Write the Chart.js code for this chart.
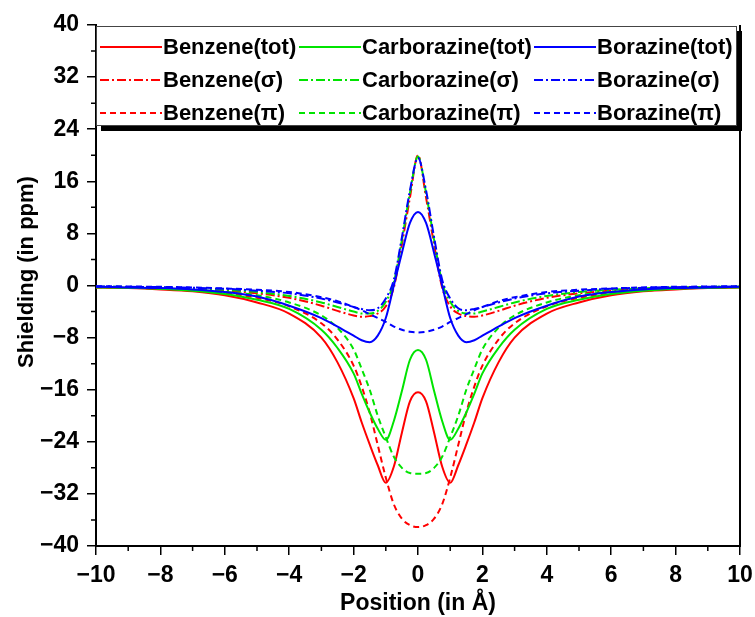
<!DOCTYPE html>
<html>
<head>
<meta charset="utf-8">
<script src="https://cdn.jsdelivr.net/npm/chart.js@4.4.1/dist/chart.umd.min.js"></script>
<style>
  html, body { margin: 0; padding: 0; background: #fff; }
</style>
</head>
<body>
<canvas id="myChart" width="755" height="617"></canvas>
<script>
// NICS-type shielding scans along the ring axis
var positions = [-10, -9, -8, -7, -6, -5, -4, -3, -2.5, -2, -1.75, -1.5, -1.25, -1, -0.75, -0.5, -0.25, 0,
  0.25, 0.5, 0.75, 1, 1.25, 1.5, 1.75, 2, 2.5, 3, 4, 5, 6, 7, 8, 9, 10];

var benzeneTot = [-0.3, -0.4, -0.6, -0.9, -1.5, -2.6, -4.3, -8.0, -11.8, -17.3, -21.0, -24.4, -27.6, -30.3, -27.8, -22.6, -17.8, -16.4,
  -17.8, -22.6, -27.8, -30.3, -27.6, -24.4, -21.0, -17.3, -11.8, -8.0, -4.3, -2.6, -1.5, -0.9, -0.6, -0.4, -0.3];
var carborazineTot = [-0.3, -0.35, -0.5, -0.8, -1.3, -2.2, -3.6, -6.8, -9.6, -13.5, -16.6, -19.5, -22.0, -23.7, -20.8, -16.2, -11.4, -9.9,
  -11.4, -16.2, -20.8, -23.7, -22.0, -19.5, -16.6, -13.5, -9.6, -6.8, -3.6, -2.2, -1.3, -0.8, -0.5, -0.35, -0.3];
var borazineTot = [-0.2, -0.3, -0.4, -0.6, -1.0, -1.7, -3.1, -5.0, -6.3, -7.7, -8.4, -8.7, -7.7, -5.0, 0.0, 5.0, 9.6, 11.3,
  9.6, 5.0, 0.0, -5.0, -7.7, -8.7, -8.4, -7.7, -6.3, -5.0, -3.1, -1.7, -1.0, -0.6, -0.4, -0.3, -0.2];

var benzeneSigma = [-0.2, -0.25, -0.35, -0.5, -0.8, -1.2, -1.9, -3.1, -3.9, -4.6, -4.8, -4.7, -4.3, -3.2, -0.3, 6.3, 13.5, 20.0,
  13.5, 6.3, -0.3, -3.2, -4.3, -4.7, -4.8, -4.6, -3.9, -3.1, -1.9, -1.2, -0.8, -0.5, -0.35, -0.25, -0.2];
var carborazineSigma = [-0.18, -0.22, -0.3, -0.45, -0.65, -1.0, -1.6, -2.6, -3.3, -4.0, -4.3, -4.3, -3.9, -2.5, 0.5, 7.0, 14.2, 19.8,
  14.2, 7.0, 0.5, -2.5, -3.9, -4.3, -4.3, -4.0, -3.3, -2.6, -1.6, -1.0, -0.65, -0.45, -0.3, -0.22, -0.18];
var borazineSigma = [-0.15, -0.2, -0.25, -0.35, -0.5, -0.8, -1.2, -2.0, -2.6, -3.3, -3.6, -3.8, -3.5, -2.0, 0.9, 7.4, 14.6, 19.6,
  14.6, 7.4, 0.9, -2.0, -3.5, -3.8, -3.6, -3.3, -2.6, -2.0, -1.2, -0.8, -0.5, -0.35, -0.25, -0.2, -0.15];

var benzenePi = [-0.25, -0.35, -0.5, -0.8, -1.2, -1.9, -3.2, -5.8, -8.3, -12.3, -15.5, -19.5, -24.5, -29.5, -33.6, -35.8, -36.8, -37.1,
  -36.8, -35.8, -33.6, -29.5, -24.5, -19.5, -15.5, -12.3, -8.3, -5.8, -3.2, -1.9, -1.2, -0.8, -0.5, -0.35, -0.25];
var carborazinePi = [-0.2, -0.3, -0.45, -0.65, -1.0, -1.5, -2.6, -4.6, -6.5, -9.8, -12.8, -16.0, -20.0, -23.3, -26.3, -28.0, -28.8, -28.9,
  -28.8, -28.0, -26.3, -23.3, -20.0, -16.0, -12.8, -9.8, -6.5, -4.6, -2.6, -1.5, -1.0, -0.65, -0.45, -0.3, -0.2];
var borazinePi = [-0.1, -0.15, -0.2, -0.3, -0.45, -0.65, -1.0, -1.8, -2.4, -3.3, -3.8, -4.4, -5.0, -5.6, -6.3, -6.8, -7.1, -7.2,
  -7.1, -6.8, -6.3, -5.6, -5.0, -4.4, -3.8, -3.3, -2.4, -1.8, -1.0, -0.65, -0.45, -0.3, -0.2, -0.15, -0.1];

var xTicks = [-10, -8, -6, -4, -2, 0, 2, 4, 6, 8, 10];
var yTicks = [-40, -32, -24, -16, -8, 0, 8, 16, 24, 32, 40];

var RED = '#ff0000', GREEN = '#00e400', BLUE = '#0000ff';
var FONT = "'Liberation Sans', Arial, sans-serif";
var DASHDOT = [9, 3, 2, 3];
var DASHED = [6, 4];

function series(label, vals, color, dash, order) {
  return {
    label: label,
    data: positions.map(function (p, i) { return { x: p, y: vals[i] }; }),
    borderColor: color,
    backgroundColor: color,
    borderWidth: 2,
    borderDash: dash,
    pointRadius: 0,
    fill: false,
    cubicInterpolationMode: 'monotone',
    order: order
  };
}

// legend order = row by row, like the figure
var datasets = [
  series('Benzene(tot)', benzeneTot, RED, [], 2),
  series('Carborazine(tot)', carborazineTot, GREEN, [], 1),
  series('Borazine(tot)', borazineTot, BLUE, [], 0),
  series('Benzene(σ)', benzeneSigma, RED, DASHDOT, 2),
  series('Carborazine(σ)', carborazineSigma, GREEN, DASHDOT, 1),
  series('Borazine(σ)', borazineSigma, BLUE, DASHDOT, 0),
  series('Benzene(π)', benzenePi, RED, DASHED, 2),
  series('Carborazine(π)', carborazinePi, GREEN, DASHED, 1),
  series('Borazine(π)', borazinePi, BLUE, DASHED, 0)
];

function minus(v) { return String(v).replace('-', '\u2212'); }

// right border, minor ticks, y title and the boxed 3x3 legend
var extras = {
  id: 'extras',
  afterDatasetsDraw: function (chart) {
    var ctx = chart.ctx, a = chart.chartArea;
    var xs = chart.scales.x, ys = chart.scales.y;
    ctx.save();
    ctx.strokeStyle = '#000';
    ctx.lineWidth = 2;
    ctx.beginPath();
    ctx.moveTo(a.right, a.top);
    ctx.lineTo(a.right, a.bottom + 1);
    ctx.stroke();

    ctx.lineWidth = 1.5;
    ctx.beginPath();
    for (var i = 0; i < xTicks.length - 1; i++) {
      var px = xs.getPixelForValue((xTicks[i] + xTicks[i + 1]) / 2);
      ctx.moveTo(px, a.bottom);
      ctx.lineTo(px, a.bottom + 5);
    }
    for (i = 0; i < yTicks.length - 1; i++) {
      var py = ys.getPixelForValue((yTicks[i] + yTicks[i + 1]) / 2);
      ctx.moveTo(a.left, py);
      ctx.lineTo(a.left - 5, py);
    }
    ctx.stroke();

    // y axis title (sits a little above the axis centre in the original)
    ctx.save();
    ctx.translate(33, 272);
    ctx.rotate(-Math.PI / 2);
    ctx.font = 'bold 22px ' + FONT;
    ctx.fillStyle = '#000';
    ctx.textAlign = 'center';
    ctx.textBaseline = 'alphabetic';
    ctx.fillText('Shielding (in ppm)', 0, 0);
    ctx.restore();

    // legend box with drop shadow
    var bx = a.left, by = a.top + 1, bw = 641, bh = 100;
    ctx.fillStyle = '#000';
    ctx.fillRect(bx + 5, by + 5, bw, bh);
    ctx.fillStyle = '#fff';
    ctx.fillRect(bx, by, bw, bh);
    ctx.lineWidth = 1;
    ctx.strokeStyle = '#444';
    ctx.strokeRect(bx + 0.5, by + 0.5, bw - 1, bh - 1);

    var cols = [100, 299, 534], rows = [47, 80, 113], lineLen = 62;
    ctx.font = 'bold 22px ' + FONT;
    ctx.textBaseline = 'middle';
    ctx.textAlign = 'left';
    chart.data.datasets.forEach(function (ds, k) {
      var cx = cols[k % 3], cy = rows[Math.floor(k / 3)];
      ctx.strokeStyle = ds.borderColor;
      ctx.lineWidth = 2;
      ctx.setLineDash(ds.borderDash);
      ctx.beginPath();
      ctx.moveTo(cx, cy);
      ctx.lineTo(cx + lineLen, cy);
      ctx.stroke();
      ctx.setLineDash([]);
      ctx.fillStyle = '#000';
      ctx.fillText(ds.label, cx + lineLen + 1, cy + 1);
    });
    ctx.restore();
  }
};

var ctx = document.getElementById('myChart');
var myChart = new Chart(ctx, {
  type: 'line',
  data: { datasets: datasets },
  plugins: [extras],
  options: {
    responsive: false,
    animation: false,
    plugins: { legend: { display: false }, tooltip: { enabled: false } },
    layout: { padding: { top: 25, right: 15, left: 0, bottom: 0 } },
    scales: {
      x: {
        type: 'linear',
        min: -10,
        max: 10,
        afterBuildTicks: function (s) { s.ticks = xTicks.map(function (v) { return { value: v }; }); },
        afterFit: function (s) { s.height = 71; s.paddingLeft = 0; s.paddingRight = 0; },
        ticks: {
          color: '#000',
          padding: 7,
          maxRotation: 0,
          font: { family: FONT, size: 23, weight: 'bold' },
          callback: function (v) { return minus(v); }
        },
        grid: { drawOnChartArea: false, drawTicks: true, tickLength: 9, color: '#000', lineWidth: 1.5 },
        border: { display: true, color: '#000', width: 2 },
        title: {
          display: true,
          text: 'Position (in Å)',
          color: '#000',
          padding: { top: 0, bottom: 0 },
          font: { family: FONT, size: 23, weight: 'bold' }
        }
      },
      y: {
        type: 'linear',
        min: -40,
        max: 40,
        afterBuildTicks: function (s) { s.ticks = yTicks.map(function (v) { return { value: v }; }); },
        afterFit: function (s) { s.width = 96; s.paddingTop = 0; s.paddingBottom = 0; },
        ticks: {
          color: '#000',
          padding: 8,
          font: { family: FONT, size: 23, weight: 'bold' },
          callback: function (v) { return minus(v); }
        },
        grid: { drawOnChartArea: false, drawTicks: true, tickLength: 9, color: '#000', lineWidth: 1.5 },
        border: { display: true, color: '#000', width: 2 },
        title: { display: false }
      }
    }
  }
});
</script>
</body>
</html>
